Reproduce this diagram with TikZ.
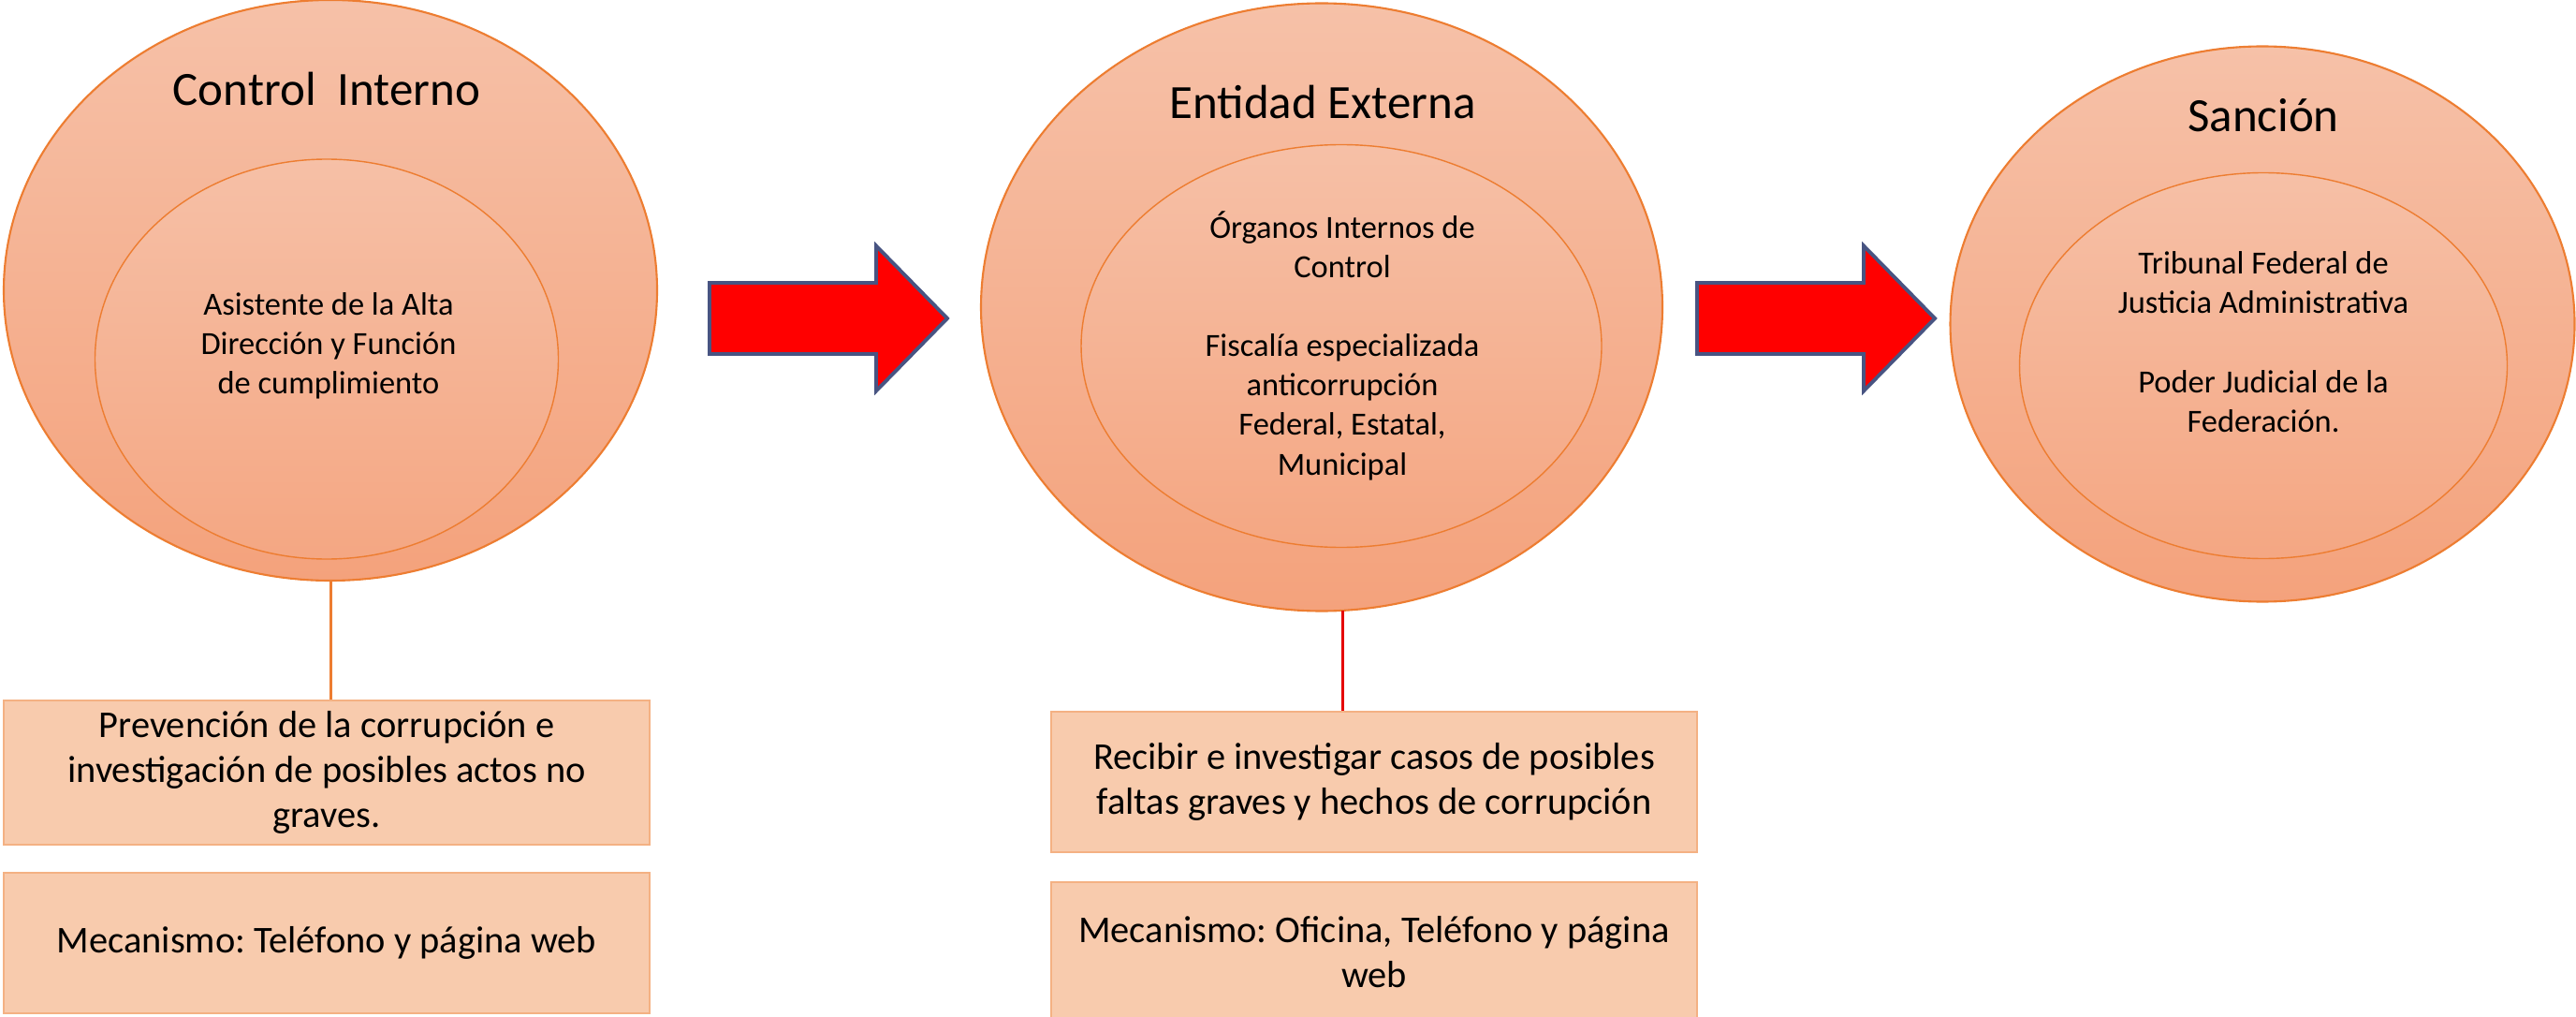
\documentclass[tikz,border=0pt]{standalone}
\usepackage{fontspec}
\setmainfont{Carlito}
\usetikzlibrary{positioning, shapes.geometric}
\frenchspacing

\definecolor{salmonTop}{RGB}{246,193,168}
\definecolor{salmonBot}{RGB}{244,162,124}
\definecolor{rimOrange}{RGB}{237,125,49}
\definecolor{boxFill}{RGB}{248,203,173}
\definecolor{boxRim}{RGB}{244,177,131}
\definecolor{arrowRim}{RGB}{72,84,130}

\begin{document}
\begin{tikzpicture}[
  outer/.style={ellipse, draw=rimOrange, line width=0.6pt, top color=salmonTop, bottom color=salmonBot, inner sep=0pt, outer sep=0pt},
  inner/.style={ellipse, draw=rimOrange, line width=0.4pt, top color=salmonTop!96!salmonBot, bottom color=salmonBot!85!salmonTop, inner sep=0pt, outer sep=0pt},
  title/.style={font=\fontsize{14.5}{17}\selectfont},
  body/.style={align=center, font=\fontsize{9.8}{12}\selectfont},
  infobox/.style={draw=boxRim, fill=boxFill, line width=0.5pt, minimum width=6.9cm, minimum height=1.5cm, align=center, font=\fontsize{11.5}{13.6}\selectfont},
  bigarrow/.pic={\draw[draw=arrowRim, fill=red, line width=1.1pt] (0,-0.38) -- (1.78,-0.38) -- (1.78,-0.775) -- (2.54,0) -- (1.78,0.775) -- (1.78,0.38) -- (0,0.38) -- cycle;},
  node distance=0.28cm
]
\useasboundingbox (0,0) rectangle (27.52,-10.86);

% control interno
\node[outer, minimum width=6.98cm, minimum height=6.20cm] (ci) at (3.53,-3.10) {};
\node[inner, minimum width=4.95cm, minimum height=4.27cm] (ciIn) at (3.49,-3.835) {};
\node[title] (ciTitle) at (3.49,-0.95) {Control\ \ Interno};
\node[body] (ciText) at (3.51,-3.69) {Asistente de la Alta\\Dirección y Función\\de cumplimiento};
\node[infobox] (prev) at (3.49,-8.25) {Prevención de la corrupción e\\investigación de posibles actos no\\graves.};
\node[infobox, below=of prev] (mec1) {Mecanismo: Teléfono y página web};

% entidad externa
\node[outer, minimum width=7.28cm, minimum height=6.49cm] (ee) at (14.12,-3.28) {};
\node[inner, minimum width=5.56cm, minimum height=4.30cm] (eeIn) at (14.33,-3.695) {};
\node[title] (eeTitle) at (14.13,-1.09) {Entidad Externa};
\node[body] (eeText) at (14.34,-3.69) {Órganos Internos de\\Control\\[12pt]Fiscalía especializada\\anticorrupción\\Federal, Estatal,\\Municipal};
\node[infobox] (recv) at (14.68,-8.35) {Recibir e investigar casos de posibles\\faltas graves y hechos de corrupción};
\node[infobox, below=0.30cm of recv] (mec2) {Mecanismo: Oficina, Teléfono y página\\web};

% sancion
\node[outer, minimum width=6.67cm, minimum height=5.93cm] (san) at (24.17,-3.46) {};
\node[inner, minimum width=5.21cm, minimum height=4.12cm] (sanIn) at (24.18,-3.905) {};
\node[title] (sanTitle) at (24.18,-1.23) {Sanción};
\node[body] (sanText) at (24.18,-3.65) {Tribunal Federal de\\Justicia Administrativa\\[12pt]Poder Judicial de la\\Federación.};

\pic (arrA) at (7.58,-3.40) {bigarrow};
\pic (arrB) at (18.13,-3.40) {bigarrow};

\draw[rimOrange, line width=0.85pt] (ci.south) -- (ci.south |- prev.north);
\draw[red!90!black, line width=0.85pt] (ee.-86) -- (ee.-86 |- recv.north);
\end{tikzpicture}
\end{document}
